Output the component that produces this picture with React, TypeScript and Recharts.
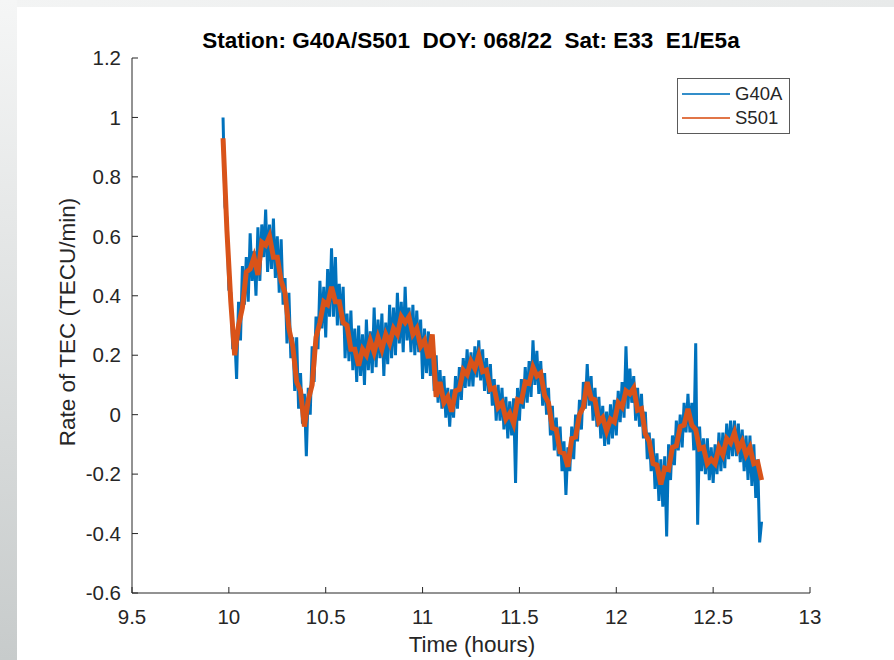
import { LineChart, Line, XAxis, YAxis, Legend } from "recharts";

// axis ticks (hours / TECU per min)
const xTicks = [9.5, 10, 10.5, 11, 11.5, 12, 12.5, 13];
const yTicks = [-0.6, -0.4, -0.2, 0, 0.2, 0.4, 0.6, 0.8, 1, 1.2];

const seriesNames = ["G40A", "S501"];
const seriesColors = ["#0072BD", "#D95319"];

const titleText = "Station: G40A/S501  DOY: 068/22  Sat: E33  E1/E5a";
const xLabel = "Time (hours)";
const yLabel = "Rate of TEC (TECU/min)";

// G40A rate of TEC [hours, TECU/min]
const g40a: [number, number][] = [
  [9.97, 1.0], [9.98, 0.7], [9.99, 0.66], [10.0, 0.42], [10.01, 0.41], [10.02, 0.22], [10.03, 0.27], [10.04, 0.12],
  [10.05, 0.38], [10.06, 0.25], [10.07, 0.5], [10.08, 0.37], [10.09, 0.53], [10.1, 0.38], [10.11, 0.61], [10.12, 0.45],
  [10.13, 0.55], [10.14, 0.4], [10.15, 0.63], [10.16, 0.45], [10.17, 0.64], [10.18, 0.53], [10.19, 0.69], [10.2, 0.48],
  [10.21, 0.64], [10.22, 0.49], [10.23, 0.66], [10.24, 0.46], [10.25, 0.6], [10.26, 0.41], [10.27, 0.59], [10.28, 0.37],
  [10.29, 0.46], [10.3, 0.24], [10.31, 0.41], [10.32, 0.19], [10.33, 0.26], [10.34, 0.08], [10.35, 0.26], [10.36, 0.02],
  [10.37, 0.14], [10.38, -0.03], [10.39, 0.07], [10.4, -0.14], [10.41, 0.09], [10.42, 0.0], [10.43, 0.23], [10.44, 0.11],
  [10.45, 0.33], [10.46, 0.22], [10.47, 0.45], [10.48, 0.29], [10.49, 0.43], [10.5, 0.26], [10.51, 0.49], [10.52, 0.33],
  [10.53, 0.56], [10.54, 0.33], [10.55, 0.53], [10.56, 0.3], [10.57, 0.44], [10.58, 0.3], [10.59, 0.43], [10.6, 0.19],
  [10.61, 0.34], [10.62, 0.18], [10.63, 0.35], [10.64, 0.15], [10.65, 0.29], [10.66, 0.11], [10.67, 0.3], [10.68, 0.13],
  [10.69, 0.27], [10.7, 0.1], [10.71, 0.32], [10.72, 0.15], [10.73, 0.28], [10.74, 0.14], [10.75, 0.36], [10.76, 0.16],
  [10.77, 0.32], [10.78, 0.19], [10.79, 0.34], [10.8, 0.13], [10.81, 0.31], [10.82, 0.17], [10.83, 0.37], [10.84, 0.19],
  [10.85, 0.36], [10.86, 0.2], [10.87, 0.41], [10.88, 0.24], [10.89, 0.38], [10.9, 0.21], [10.91, 0.43], [10.92, 0.25],
  [10.93, 0.36], [10.94, 0.21], [10.95, 0.37], [10.96, 0.2], [10.97, 0.35], [10.98, 0.21], [10.99, 0.32], [11.0, 0.12],
  [11.01, 0.29], [11.02, 0.14], [11.03, 0.28], [11.04, 0.13], [11.05, 0.24], [11.06, 0.08], [11.07, 0.2], [11.08, 0.04],
  [11.09, 0.15], [11.1, 0.02], [11.11, 0.13], [11.12, -0.01], [11.13, 0.09], [11.14, -0.04], [11.15, 0.085], [11.16, -0.01],
  [11.17, 0.13], [11.18, 0.02], [11.19, 0.16], [11.2, 0.05], [11.21, 0.19], [11.22, 0.09], [11.23, 0.22], [11.24, 0.095],
  [11.25, 0.21], [11.26, 0.095], [11.27, 0.23], [11.28, 0.125], [11.29, 0.25], [11.3, 0.115], [11.31, 0.22], [11.32, 0.08],
  [11.33, 0.19], [11.34, 0.07], [11.35, 0.17], [11.36, 0.03], [11.37, 0.12], [11.38, -0.02], [11.39, 0.1], [11.4, -0.02],
  [11.41, 0.09], [11.42, -0.05], [11.43, 0.06], [11.44, -0.08], [11.45, 0.045], [11.46, -0.07], [11.47, 0.055], [11.48, -0.23],
  [11.49, 0.09], [11.5, -0.02], [11.51, 0.12], [11.52, 0.02], [11.53, 0.16], [11.54, 0.04], [11.55, 0.18], [11.56, 0.06],
  [11.57, 0.25], [11.58, 0.1], [11.59, 0.215], [11.6, 0.07], [11.61, 0.18], [11.62, 0.03], [11.63, 0.14], [11.64, 0.0],
  [11.65, 0.09], [11.66, -0.07], [11.67, 0.03], [11.68, -0.12], [11.69, -0.01], [11.7, -0.14], [11.71, -0.04], [11.72, -0.19],
  [11.73, -0.09], [11.74, -0.27], [11.75, -0.11], [11.76, -0.19], [11.77, -0.04], [11.78, -0.15], [11.79, 0.0], [11.8, -0.09],
  [11.81, 0.05], [11.82, -0.05], [11.83, 0.11], [11.84, 0.02], [11.85, 0.17], [11.86, 0.03], [11.87, 0.13], [11.88, -0.02],
  [11.89, 0.09], [11.9, -0.04], [11.91, 0.06], [11.92, -0.08], [11.93, 0.03], [11.94, -0.105], [11.95, 0.01], [11.96, -0.1],
  [11.97, 0.035], [11.98, -0.08], [11.99, 0.05], [12.0, -0.07], [12.01, 0.08], [12.02, -0.025], [12.03, 0.11], [12.04, -0.01],
  [12.05, 0.23], [12.06, 0.02], [12.07, 0.155], [12.08, 0.04], [12.09, 0.13], [12.1, -0.02], [12.11, 0.09], [12.12, -0.04],
  [12.13, 0.07], [12.14, -0.08], [12.15, 0.01], [12.16, -0.15], [12.17, -0.06], [12.18, -0.19], [12.19, -0.08], [12.2, -0.25],
  [12.21, -0.13], [12.22, -0.29], [12.23, -0.15], [12.24, -0.31], [12.25, -0.14], [12.26, -0.41], [12.27, -0.1], [12.28, -0.22],
  [12.29, -0.07], [12.3, -0.17], [12.31, -0.02], [12.32, -0.12], [12.33, 0.0], [12.34, -0.11], [12.35, 0.04], [12.36, -0.06],
  [12.37, 0.07], [12.38, -0.06], [12.39, 0.04], [12.4, -0.12], [12.41, 0.24], [12.42, -0.37], [12.43, -0.04], [12.44, -0.19],
  [12.45, -0.08], [12.46, -0.2], [12.47, -0.08], [12.48, -0.22], [12.49, -0.11], [12.5, -0.23], [12.51, -0.1], [12.52, -0.2],
  [12.53, -0.06], [12.54, -0.19], [12.55, -0.06], [12.56, -0.18], [12.57, -0.03], [12.58, -0.15], [12.59, -0.02], [12.6, -0.14],
  [12.61, -0.02], [12.62, -0.14], [12.63, -0.03], [12.64, -0.16], [12.65, -0.05], [12.66, -0.19], [12.67, -0.07], [12.68, -0.22],
  [12.69, -0.07], [12.7, -0.24], [12.71, -0.1], [12.72, -0.28], [12.73, -0.15], [12.74, -0.43], [12.75, -0.36],
];

// S501 rate of TEC [hours, TECU/min]
const s501: [number, number][] = [
  [9.97, 0.93], [9.99, 0.62], [10.01, 0.38], [10.03, 0.2], [10.05, 0.3], [10.07, 0.36], [10.09, 0.48], [10.11, 0.49],
  [10.13, 0.53], [10.15, 0.47], [10.17, 0.58], [10.19, 0.57], [10.21, 0.6], [10.23, 0.53], [10.25, 0.53], [10.27, 0.45],
  [10.29, 0.41], [10.31, 0.29], [10.33, 0.23], [10.35, 0.11], [10.37, 0.08], [10.39, -0.04], [10.41, 0.05], [10.43, 0.1],
  [10.45, 0.26], [10.47, 0.31], [10.49, 0.38], [10.51, 0.37], [10.53, 0.43], [10.55, 0.38], [10.57, 0.38], [10.59, 0.31],
  [10.61, 0.3], [10.63, 0.22], [10.65, 0.22], [10.67, 0.165], [10.69, 0.22], [10.71, 0.2], [10.73, 0.25], [10.75, 0.21],
  [10.77, 0.26], [10.79, 0.22], [10.81, 0.27], [10.83, 0.24], [10.85, 0.29], [10.87, 0.27], [10.89, 0.33], [10.91, 0.31],
  [10.93, 0.33], [10.95, 0.27], [10.97, 0.29], [10.99, 0.23], [11.01, 0.25], [11.03, 0.19], [11.05, 0.27], [11.07, 0.06],
  [11.09, 0.11], [11.11, 0.04], [11.13, 0.06], [11.15, 0.01], [11.17, 0.08], [11.19, 0.085], [11.21, 0.15], [11.23, 0.135],
  [11.25, 0.18], [11.27, 0.155], [11.29, 0.2], [11.31, 0.145], [11.33, 0.15], [11.35, 0.085], [11.37, 0.09], [11.39, 0.025],
  [11.41, 0.04], [11.43, -0.015], [11.45, 0.005], [11.47, -0.03], [11.49, 0.05], [11.51, 0.045], [11.53, 0.11], [11.55, 0.105],
  [11.57, 0.16], [11.59, 0.13], [11.61, 0.14], [11.63, 0.065], [11.65, 0.04], [11.67, -0.045], [11.69, -0.05], [11.71, -0.125],
  [11.73, -0.13], [11.75, -0.175], [11.77, -0.08], [11.79, -0.075], [11.81, 0.0], [11.83, 0.025], [11.85, 0.11], [11.87, 0.055],
  [11.89, 0.05], [11.91, -0.025], [11.93, -0.01], [11.95, -0.055], [11.97, -0.015], [11.99, -0.025], [12.01, 0.04], [12.03, 0.025],
  [12.05, 0.08], [12.07, 0.07], [12.09, 0.09], [12.11, 0.015], [12.13, 0.02], [12.15, -0.065], [12.17, -0.09], [12.19, -0.165],
  [12.21, -0.17], [12.23, -0.235], [12.25, -0.18], [12.27, -0.185], [12.29, -0.11], [12.31, -0.105], [12.33, -0.04], [12.35, -0.035],
  [12.37, 0.02], [12.39, -0.035], [12.41, -0.05], [12.43, -0.115], [12.45, -0.11], [12.47, -0.165], [12.49, -0.15], [12.51, -0.165],
  [12.53, -0.11], [12.55, -0.135], [12.57, -0.08], [12.59, -0.095], [12.61, -0.06], [12.63, -0.115], [12.65, -0.09], [12.67, -0.135],
  [12.69, -0.11], [12.71, -0.165], [12.73, -0.16], [12.75, -0.22],
];

const FONT = '"Liberation Sans", Arial, Helvetica, sans-serif';
const INK = "#262626";

function MatlabLegend(props: any) {
  const items = props.payload || [];
  return (
    <div
      style={{
        border: "1px solid #5a5a5a",
        background: "#fff",
        padding: "3px 0",
        width: 111,
        fontFamily: FONT,
      }}
    >
      {items.map((entry: any) => (
        <div key={entry.value} style={{ display: "flex", alignItems: "center", height: 24 }}>
          <span
            style={{
              display: "inline-block",
              width: 48,
              height: 2,
              background: entry.color,
              opacity: 0.8,
              marginLeft: 4,
              marginRight: 5,
            }}
          />
          <span style={{ fontSize: 18.5, color: INK }}>{entry.value}</span>
        </div>
      ))}
    </div>
  );
}

export default function App() {
  const blueData = g40a.map(([t, v]) => ({ t, v }));
  const orangeData = s501.map(([t, v]) => ({ t, v }));

  return (
    <div
      style={{
        position: "absolute",
        left: 0,
        top: 0,
        width: 894,
        height: 660,
        overflow: "hidden",
        background: "#fff",
      }}
    >
      {/* slide background strips */}
      <div
        style={{
          position: "absolute",
          left: 0,
          top: 0,
          width: 894,
          height: 7,
          background: "linear-gradient(to right, #f3f4f4, #e8eaea)",
        }}
      />
      <div
        style={{
          position: "absolute",
          left: 0,
          top: 0,
          width: 17,
          height: 660,
          background: "linear-gradient(to bottom, #f5f6f6, #c7cbcb)",
        }}
      />

      <div style={{ position: "absolute", left: 0, top: 0 }}>
        <LineChart
          width={894}
          height={660}
          margin={{ top: 58, right: 84, bottom: 27, left: 72 }}
        >
          <XAxis
            type="number"
            dataKey="t"
            domain={[9.5, 13]}
            ticks={xTicks}
            interval={0}
            allowDataOverflow
            height={40}
            tickSize={-6}
            tickMargin={22}
            axisLine={{ stroke: INK }}
            tickLine={{ stroke: INK }}
            tick={{ fill: INK, fontSize: 20.5, fontFamily: FONT }}
            tickFormatter={(v: number) => String(v)}
          />
          <YAxis
            type="number"
            domain={[-0.6, 1.2]}
            ticks={yTicks}
            interval={0}
            allowDataOverflow
            width={60}
            tickSize={-6}
            tickMargin={17}
            axisLine={{ stroke: INK }}
            tickLine={{ stroke: INK }}
            tick={{ fill: INK, fontSize: 20.5, fontFamily: FONT }}
            tickFormatter={(v: number) => String(v)}
          />
          <Legend
            layout="vertical"
            align="center"
            verticalAlign="middle"
            wrapperStyle={{ left: 677, top: 78, width: 113 }}
            content={(p: any) => <MatlabLegend {...p} />}
          />
          <Line
            data={blueData}
            dataKey="v"
            name={seriesNames[0]}
            stroke={seriesColors[0]}
            strokeWidth={3}
            strokeLinejoin="miter"
            dot={false}
            type="linear"
            isAnimationActive={false}
          />
          <Line
            data={orangeData}
            dataKey="v"
            name={seriesNames[1]}
            stroke={seriesColors[1]}
            strokeWidth={5}
            dot={false}
            type="linear"
            isAnimationActive={false}
          />
        </LineChart>
      </div>

      {/* title and axis labels */}
      <svg
        width={894}
        height={660}
        style={{ position: "absolute", left: 0, top: 0, pointerEvents: "none" }}
      >
        <text
          x={471}
          y={48}
          textAnchor="middle"
          fontFamily={FONT}
          fontSize={22.5}
          fontWeight="bold"
          fill="#000"
          style={{ whiteSpace: "pre" }}
          xmlSpace="preserve"
        >
          {titleText}
        </text>
        <text x={472} y={652} textAnchor="middle" fontFamily={FONT} fontSize={22.5} fill={INK}>
          {xLabel}
        </text>
        <text
          x={-322}
          y={75}
          transform="rotate(-90)"
          textAnchor="middle"
          fontFamily={FONT}
          fontSize={22.5}
          fill={INK}
        >
          {yLabel}
        </text>
      </svg>
    </div>
  );
}
